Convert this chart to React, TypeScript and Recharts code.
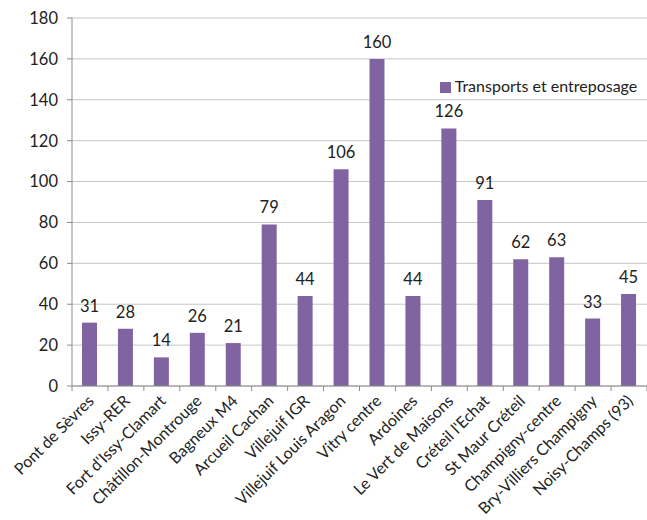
import React from 'react'
import { BarChart, Bar, XAxis, YAxis, CartesianGrid, Legend, LabelList } from 'recharts'

const stations = [
  'Pont de Sèvres',
  'Issy-RER',
  "Fort d'Issy-Clamart",
  'Châtillon-Montrouge',
  'Bagneux M4',
  'Arcueil Cachan',
  'Villejuif IGR',
  'Villejuif Louis Aragon',
  'Vitry centre',
  'Ardoines',
  'Le Vert de Maisons',
  "Créteil l'Echat",
  'St Maur Créteil',
  'Champigny-centre',
  'Bry-Villiers Champigny',
  'Noisy-Champs (93)',
]
const transports = [31, 28, 14, 26, 21, 79, 44, 106, 160, 44, 126, 91, 62, 63, 33, 45]
const yTicks = [0, 20, 40, 60, 80, 100, 120, 140, 160, 180]

const data = stations.map((name, i) => ({ name, value: transports[i] }))

const FONT = 'Lato, "Liberation Sans", sans-serif'
const BAND = (647 - 72) / stations.length

function StationTick(props: any) {
  const { x, y, payload, index } = props
  const last = index === stations.length - 1
  const tx = x + 5
  const ty = y + 8
  return (
    <g>
      <line x1={x - BAND / 2} y1={y - 8} x2={x - BAND / 2} y2={y - 3} stroke="#8c8c8c" />
      {last && <line x1={x + BAND / 2} y1={y - 8} x2={x + BAND / 2} y2={y - 3} stroke="#8c8c8c" />}
      <text
        x={tx}
        y={ty}
        textAnchor="end"
        transform={`rotate(-45 ${tx} ${ty})`}
        fontSize={16}
        fontFamily={FONT}
        fill="#222"
      >
        {payload.value}
      </text>
    </g>
  )
}

export default function App() {
  return (
    <div style={{ position: 'absolute', left: 0, top: 0, background: '#fff' }}>
      <BarChart
        width={647}
        height={520}
        data={data}
        margin={{ top: 18, right: 0, left: 0, bottom: 0 }}
        barSize={15}
      >
        <CartesianGrid vertical={false} stroke="#c6c6c6" />
        <XAxis
          dataKey="name"
          interval={0}
          height={134}
          tickLine={false}
          stroke="#8c8c8c"
          tick={<StationTick />}
        />
        <YAxis
          domain={[0, 180]}
          ticks={yTicks}
          width={72}
          tickSize={5}
          tickMargin={9}
          stroke="#8c8c8c"
          tick={{ fontSize: 16.5, fontFamily: FONT, fill: '#222' }}
        />
        <Legend
          layout="horizontal"
          verticalAlign="middle"
          align="center"
          iconType="square"
          iconSize={11}
          wrapperStyle={{ top: 76, left: 436, width: 215, fontFamily: FONT, fontSize: 16 }}
          formatter={(v) => <span style={{ color: '#222' }}>{v}</span>}
        />
        <Bar dataKey="value" name="Transports et entreposage" fill="#8064a2" isAnimationActive={false}>
          <LabelList dataKey="value" position="top" offset={11} fontSize={16.5} fontFamily={FONT} fill="#222" />
        </Bar>
      </BarChart>
    </div>
  )
}
